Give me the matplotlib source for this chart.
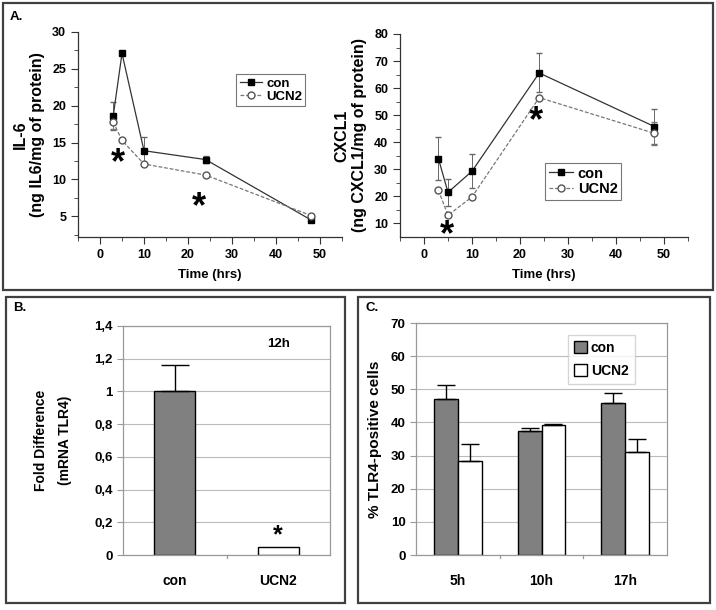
import matplotlib
matplotlib.use('Agg')
import matplotlib.pyplot as plt
from matplotlib.patches import Rectangle
from matplotlib.lines import Line2D
from matplotlib.ticker import MultipleLocator, FixedLocator

plt.rcParams['font.family'] = ['Liberation Sans', 'DejaVu Sans']
plt.rcParams['font.weight'] = 'bold'

# panel A data
hours = [3, 5, 10, 24, 48]
il6_con = [18.6, 27.1, 13.9, 12.7, 4.5]
il6_con_err = [1.9, 0.0, 1.8, 0.5, 0.2]
il6_ucn = [17.8, 15.3, 12.1, 10.6, 5.1]
il6_ucn_err = [1.0, 0.2, 0.2, 0.2, 0.2]
cxcl_con = [34.0, 21.5, 29.3, 65.6, 45.8]
cxcl_con_err = [8.0, 5.0, 6.2, 7.2, 6.5]
cxcl_ucn = [22.3, 13.0, 19.8, 56.5, 43.3]
cxcl_ucn_err = [0.5, 0.5, 0.5, 0.5, 4.2]

# panel B data
b_groups = ['con', 'UCN2']
b_values = [1.0, 0.05]
b_err = [0.16, 0.0]
b_ticks = ['0', '0,2', '0,4', '0,6', '0,8', '1', '1,2', '1,4']

# panel C data
c_groups = ['5h', '10h', '17h']
c_con = [47.2, 37.5, 46.0]
c_con_err = [4.0, 0.8, 2.8]
c_ucn = [28.3, 39.2, 31.1]
c_ucn_err = [5.2, 0.4, 4.0]

W, H = 716, 610
fig = plt.figure(figsize=(W / 100, H / 100), dpi=100)


def ax_px(x0, y0, x1, y1):
    return fig.add_axes([x0 / W, 1 - y1 / H, (x1 - x0) / W, (y1 - y0) / H])


def box_px(x0, y0, x1, y1):
    fig.patches.append(Rectangle((x0 / W, 1 - y1 / H), (x1 - x0) / W, (y1 - y0) / H,
                                 transform=fig.transFigure, fill=False,
                                 edgecolor='#404040', linewidth=1.6))


box_px(3, 3, 713, 290)
box_px(6, 297, 345, 603)
box_px(358, 297, 710, 603)
fig.text(10 / W, 1 - 17 / H, 'A.', fontsize=9.5, weight='bold', va='center')
fig.text(13 / W, 1 - 308 / H, 'B.', fontsize=9.5, weight='bold', va='center')
fig.text(366 / W, 1 - 308 / H, 'C.', fontsize=9.5, weight='bold', va='center')

con_style = dict(color='#333333', lw=0.9, marker='s', ms=4.5, mfc='black', mec='black')
ucn_style = dict(color='#777777', lw=0.9, ls=(0, (3, 1.5)), marker='o', ms=5,
                 mfc='white', mec='#555555')


def line_panel(ax, con, con_err, ucn, ucn_err, ylim, ymajor, yminor, ylabel,
               legpos, legsize):
    ax.errorbar(hours, con, yerr=con_err, ecolor='#666666', elinewidth=0.7, capsize=2.5,
                zorder=3, **con_style)
    ax.errorbar(hours, ucn, yerr=ucn_err, ecolor='#777777', elinewidth=0.7, capsize=2.5,
                zorder=3, **ucn_style)
    ax.set_xlim(-5, 55)
    ax.set_ylim(*ylim)
    ax.xaxis.set_major_locator(MultipleLocator(10))
    ax.xaxis.set_minor_locator(MultipleLocator(5))
    ax.yaxis.set_major_locator(FixedLocator(ymajor))
    ax.yaxis.set_minor_locator(FixedLocator(yminor))
    for s in ['top', 'right']:
        ax.spines[s].set_visible(False)
    for s in ['left', 'bottom']:
        ax.spines[s].set_color('#333333')
        ax.spines[s].set_linewidth(0.9)
    ax.tick_params(which='both', direction='out', color='#333333', labelsize=9)
    ax.tick_params(which='major', length=5)
    ax.tick_params(which='minor', length=3)
    for t in ax.get_xticklabels() + ax.get_yticklabels():
        t.set_fontweight('bold')
    ax.set_xlabel('Time (hrs)', fontsize=9.5, weight='bold', labelpad=6)
    ax.set_ylabel(ylabel, fontsize=11.5, weight='bold', labelpad=5)
    handles = [Line2D([], [], **con_style), Line2D([], [], **ucn_style)]
    leg = ax.legend(handles, ['con', 'UCN2'], loc='upper left', bbox_to_anchor=legpos,
                    fontsize=legsize, frameon=True, fancybox=False, edgecolor='#555555',
                    handlelength=1.7, handletextpad=0.3, borderpad=0.25,
                    labelspacing=0.1, borderaxespad=0)
    leg.get_frame().set_linewidth(0.8)
    for t in leg.get_texts():
        t.set_fontweight('bold')


ax1 = ax_px(78, 32, 342, 237)
line_panel(ax1, il6_con, il6_con_err, il6_ucn, il6_ucn_err, (2.2, 30),
           [5, 10, 15, 20, 25, 30], [2.5, 7.5, 12.5, 17.5, 22.5, 27.5],
           'IL-6\n(ng IL6/mg of protein)', (0.6, 0.795), 9.5)
ax1.text(4.0, 12.2, '*', fontsize=26, ha='center', va='center', weight='bold')
ax1.text(22.5, 6.2, '*', fontsize=26, ha='center', va='center', weight='bold')

ax2 = ax_px(400, 34, 688, 237)
line_panel(ax2, cxcl_con, cxcl_con_err, cxcl_ucn, cxcl_ucn_err, (5, 80),
           [10, 20, 30, 40, 50, 60, 70, 80], [15, 25, 35, 45, 55, 65, 75],
           'CXCL1\n(ng CXCL1/mg of protein)', (0.503, 0.365), 10.5)
ax2.text(4.8, 5.5, '*', fontsize=26, ha='center', va='center', weight='bold')
ax2.text(23.4, 47.5, '*', fontsize=26, ha='center', va='center', weight='bold')


def excel_axes(ax):
    for s in ax.spines.values():
        s.set_color('#999999')
        s.set_linewidth(0.9)
    ax.set_axisbelow(True)
    ax.yaxis.grid(True, color='#bbbbbb', lw=0.8)
    ax.tick_params(axis='y', direction='out', length=4, color='#999999', labelsize=9.5)
    ax.tick_params(axis='x', length=0, labelsize=10, pad=14)
    for t in ax.get_xticklabels() + ax.get_yticklabels():
        t.set_fontweight('bold')


# panel B
ax3 = ax_px(123, 326, 330, 555)
xb = list(range(len(b_groups)))
ax3.bar(xb, b_values, width=0.4, color=['#808080', 'white'], edgecolor='black', lw=1.0)
for x, v, e in zip(xb, b_values, b_err):
    if e > 0:
        ax3.errorbar(x, v, yerr=[[0], [e]], fmt='none', ecolor='black', elinewidth=1.0,
                     capsize=10, capthick=1.0)
ax3.set_xlim(-0.5, 1.5)
ax3.set_ylim(0, 1.4)
ax3.set_yticks([i * 0.2 for i in range(8)])
ax3.set_yticklabels(b_ticks)
ax3.set_xticks(xb)
ax3.set_xticklabels(b_groups)
excel_axes(ax3)
ax3.text(-0.34, 0.5, 'Fold Difference\n(mRNA TLR4)', transform=ax3.transAxes, rotation=90,
         fontsize=10, weight='bold', ha='center', va='center', linespacing=1.9)
ax3.text(1.0, 1.29, '12h', fontsize=9.5, weight='bold', ha='center', va='center')
ax3.text(1.0, 0.045, '*', fontsize=18, weight='bold', ha='center', va='bottom')
for xv in [0.5]:
    ax3.plot([xv, xv], [0, -0.02], color='#999999', lw=0.9, clip_on=False)

# panel C
ax4 = ax_px(416, 323, 667, 555)
w = 0.286
xc = list(range(len(c_groups)))
ax4.bar([x - w / 2 for x in xc], c_con, width=w, color='#808080', edgecolor='black', lw=1.0,
        yerr=[[0] * len(c_con_err), c_con_err], label='con',
        error_kw=dict(ecolor='black', elinewidth=1.0, capsize=6.5, capthick=1.0))
ax4.bar([x + w / 2 for x in xc], c_ucn, width=w, color='white', edgecolor='black', lw=1.0,
        yerr=[[0] * len(c_ucn_err), c_ucn_err], label='UCN2',
        error_kw=dict(ecolor='black', elinewidth=1.0, capsize=6.5, capthick=1.0))
ax4.set_xlim(-0.5, 2.5)
ax4.set_ylim(0, 70)
ax4.set_yticks(range(0, 71, 10))
ax4.set_xticks(xc)
ax4.set_xticklabels(c_groups)
excel_axes(ax4)
ax4.set_ylabel('% TLR4-positive cells', fontsize=11, weight='bold', labelpad=6)
for xv in [0.5, 1.5]:
    ax4.plot([xv, xv], [0, -1.0], color='#999999', lw=0.9, clip_on=False)
leg = ax4.legend(loc='upper left', bbox_to_anchor=(0.605, 0.95), fontsize=10, frameon=True,
                 fancybox=False, edgecolor='#cccccc', handlelength=0.9, handleheight=0.9,
                 handletextpad=0.3, borderpad=0.45, labelspacing=0.65, borderaxespad=0)
for t in leg.get_texts():
    t.set_fontweight('bold')

fig.savefig('out.png', dpi=100)
